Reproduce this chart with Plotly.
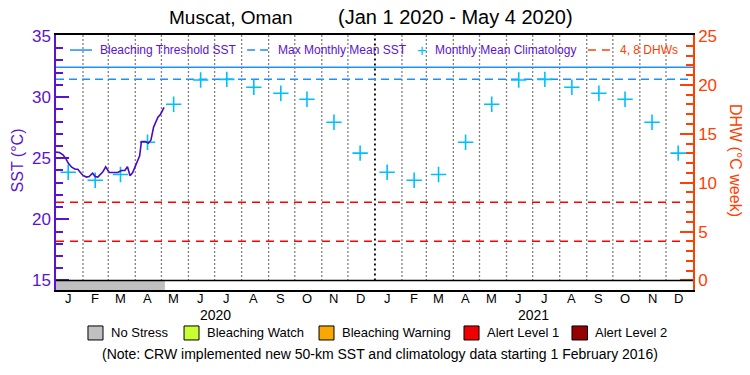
import pandas as pd
import plotly.graph_objects as go

# ---------------- data ----------------
sst_dates = ["2020-01-01", "2020-01-05", "2020-01-09", "2020-01-12", "2020-01-15", "2020-01-19",
             "2020-01-23", "2020-01-26", "2020-01-29", "2020-02-01", "2020-02-05", "2020-02-08",
             "2020-02-12", "2020-02-15", "2020-02-18", "2020-02-21", "2020-02-24", "2020-02-27",
             "2020-02-29", "2020-03-02", "2020-03-07", "2020-03-12", "2020-03-16", "2020-03-20",
             "2020-03-23", "2020-03-25", "2020-03-26", "2020-03-29", "2020-04-01", "2020-04-04",
             "2020-04-06", "2020-04-08", "2020-04-13", "2020-04-16", "2020-04-19", "2020-04-22",
             "2020-04-25", "2020-04-27", "2020-04-30", "2020-05-02", "2020-05-04"]
sst_values = [25.50, 25.47, 25.28, 25.00, 24.60, 24.27,
              24.10, 24.10, 23.83, 23.59, 23.46, 23.50,
              23.78, 23.50, 23.46, 23.65, 23.92, 24.30,
              24.05, 23.83, 23.83, 23.83, 24.00, 24.00,
              24.30, 23.92, 23.57, 23.83, 24.40, 24.90,
              25.20, 26.36, 26.36, 26.23, 26.50, 27.55,
              28.10, 28.35, 28.60, 28.85, 29.15]

clim_dates = [f"{y}-{m:02d}-15" for y in (2020, 2021) for m in range(1, 13)]
clim_monthly = [23.85, 23.20, 23.67, 26.31, 29.41, 31.40, 31.45, 30.80, 30.31, 29.82, 27.94, 25.42]
clim_values = clim_monthly * 2

mmm_sst = 31.45
threshold_sst = 32.45
dhw_levels = [4, 8]

month_letters = ["J", "F", "M", "A", "M", "J", "J", "A", "S", "O", "N", "D"] * 2
year_labels = ["2020", "2021"]
year_centers = ["2020-07-02", "2021-07-02"]

x_start, x_end = "2020-01-01", "2022-01-01"

# ---------------- styles ----------------
PURPLE = "#5a14cf"
LINE_PURPLE = "#4a0cc0"
ORANGE = "#ff4000"
BLUE = "#1e8fff"
CYAN = "#00bfff"
RED = "#ff0000"
FONT = "Liberation Sans"

SST_LO, SST_HI = 14.22, 35.08
DHW_LO, DHW_HI = (SST_LO - 15) * 1.25, (SST_HI - 15) * 1.25

fig = go.Figure()

# threshold & MMM lines
fig.add_trace(go.Scatter(x=[x_start, x_end], y=[threshold_sst] * 2, mode="lines",
                         line=dict(color=BLUE, width=1.5), showlegend=False, hoverinfo="skip"))
fig.add_trace(go.Scatter(x=[x_start, x_end], y=[mmm_sst] * 2, mode="lines",
                         line=dict(color=BLUE, width=1.5, dash="8px,5px"), showlegend=False,
                         hoverinfo="skip"))
# DHW lines on right axis
for lev in dhw_levels:
    fig.add_trace(go.Scatter(x=[x_start, x_end], y=[lev] * 2, mode="lines", yaxis="y2",
                             line=dict(color=RED, width=1.5, dash="8px,6px"), showlegend=False,
                             hoverinfo="skip"))

# climatology crosses
fig.add_trace(go.Scatter(x=clim_dates, y=clim_values, mode="markers",
                         marker=dict(symbol="cross-thin", size=11, line=dict(color=CYAN, width=1.6)),
                         showlegend=False))
# SST line
fig.add_trace(go.Scatter(x=sst_dates, y=sst_values, mode="lines",
                         line=dict(color=LINE_PURPLE, width=1.6), showlegend=False))

shapes = []
# month boundary dotted lines
bounds = pd.date_range(x_start, x_end, freq="MS")[1:-1]
for b in bounds:
    yr = b.month == 1
    shapes.append(dict(type="line", xref="x", yref="y", x0=b, x1=b, y0=15, y1=SST_HI,
                       line=dict(color="black", width=1.8 if yr else 1.3,
                                 dash="2px,3px" if yr else "1px,3px"),
                       layer="below"))
# baseline at SST 15
shapes.append(dict(type="line", xref="paper", yref="y", x0=0, x1=1, y0=15, y1=15,
                   line=dict(color="black", width=1.5)))
# stress bar (no stress over data period)
shapes.append(dict(type="rect", xref="x", yref="y", x0=sst_dates[0],
                   x1=str((pd.Timestamp(sst_dates[-1]) + pd.Timedelta(days=1)).date()),
                   y0=SST_LO, y1=15, fillcolor="#c0c0c0", line=dict(width=0), layer="below"))

annotations = []
# month & year labels
for d, lab in zip(clim_dates, month_letters):
    annotations.append(dict(x=d, y=-0.035, xref="x", yref="paper", text=lab, showarrow=False,
                            font=dict(family=FONT, size=13, color="black"),
                            xanchor="center", yanchor="middle"))
for d, lab in zip(year_centers, year_labels):
    annotations.append(dict(x=d, y=-0.098, xref="x", yref="paper", text=lab, showarrow=False,
                            font=dict(family=FONT, size=14, color="black"),
                            xanchor="center", yanchor="middle"))

# top legend (inside plot)
ly = 0.941
def legend_text(x, text, color):
    annotations.append(dict(x=x, y=ly, xref="paper", yref="paper", text=text, showarrow=False,
                            xanchor="left", yanchor="middle",
                            font=dict(family=FONT, size=12, color=color)))

shapes.append(dict(type="line", xref="paper", yref="paper", x0=0.022, x1=0.0565, y0=ly, y1=ly,
                   line=dict(color=BLUE, width=1.5)))
legend_text(0.066, "Bleaching Threshold SST", PURPLE)
shapes.append(dict(type="line", xref="paper", yref="paper", x0=0.300, x1=0.333, y0=ly, y1=ly,
                   line=dict(color=BLUE, width=1.5, dash="8px,5px")))
legend_text(0.345, "Max Monthly Mean SST", PURPLE)
annotations.append(dict(x=0.574, y=ly, xref="paper", yref="paper", text="+", showarrow=False,
                        xanchor="center", yanchor="middle",
                        font=dict(family=FONT, size=17, color=CYAN)))
legend_text(0.592, "Monthly Mean Climatology", PURPLE)
shapes.append(dict(type="line", xref="paper", yref="paper", x0=0.835, x1=0.876, y0=ly, y1=ly,
                   line=dict(color=ORANGE, width=1.5, dash="8px,6px")))
legend_text(0.882, "4, 8 DHWs", ORANGE)

# bottom legend
by0, by1 = -0.196, -0.141
items = [("No Stress", "#c0c0c0", 0.0502, 0.0738),
         ("Bleaching Watch", "#c8ff32", 0.201, 0.2245),
         ("Bleaching Warning", "#f8a800", 0.4129, 0.4364),
         ("Alert Level 1", "#f00000", 0.6405, 0.6641),
         ("Alert Level 2", "#960000", 0.810, 0.8344)]
for lab, col, x0, x1 in items:
    shapes.append(dict(type="rect", xref="paper", yref="paper", x0=x0, x1=x1, y0=by0, y1=by1,
                       fillcolor=col, line=dict(color="black", width=1)))
    annotations.append(dict(x=x1 + 0.009, y=(by0 + by1) / 2, xref="paper", yref="paper", text=lab,
                            showarrow=False, xanchor="left", yanchor="middle",
                            font=dict(family=FONT, size=13, color="black")))
annotations.append(dict(x=0.509, y=-0.251, xref="paper", yref="paper",
                        text="(Note: CRW implemented new 50-km SST and climatology data starting 1 February 2016)",
                        showarrow=False, xanchor="center", yanchor="middle",
                        font=dict(family=FONT, size=14, color="black")))

# axis titles
annotations.append(dict(x=-0.0605, y=0.51, xref="paper", yref="paper", text="SST (°C)", textangle=-90,
                        showarrow=False, xanchor="center", yanchor="middle",
                        font=dict(family=FONT, size=16, color=PURPLE)))
annotations.append(dict(x=1.066, y=0.51, xref="paper", yref="paper", text="DHW (°C week)", textangle=90,
                        showarrow=False, xanchor="center", yanchor="middle",
                        font=dict(family=FONT, size=16, color=ORANGE)))
# title (two parts)
annotations.append(dict(x=0.2747, y=1.0, xref="paper", yref="paper", yshift=18,
                        text="Muscat, Oman", showarrow=False, xanchor="center", yanchor="middle",
                        font=dict(family=FONT, size=19, color="black")))
annotations.append(dict(x=0.6264, y=1.0, xref="paper", yref="paper", yshift=18,
                        text="(Jan 1 2020 - May 4 2020)", showarrow=False, xanchor="center",
                        yanchor="middle", font=dict(family=FONT, size=20, color="black")))

fig.update_layout(
    width=750, height=375,
    margin=dict(l=56, r=57, t=35, b=85),
    paper_bgcolor="white", plot_bgcolor="white",
    showlegend=False,
    xaxis=dict(type="date", range=[x_start, x_end], showgrid=False, zeroline=False,
               showticklabels=False, ticks="", showline=True, linecolor="black", linewidth=1.5,
               mirror=True),
    yaxis=dict(range=[SST_LO, SST_HI], tickvals=[15, 20, 25, 30, 35], ticks="inside", ticklen=13,
               tickwidth=1.5, tickcolor=PURPLE, showgrid=False, zeroline=False,
               showline=True, linecolor=PURPLE, linewidth=1.5,
               tickfont=dict(family=FONT, size=17, color=PURPLE),
               minor=dict(dtick=1, tick0=15, ticks="inside", ticklen=7, tickcolor=PURPLE, tickwidth=1.5)),
    yaxis2=dict(range=[DHW_LO, DHW_HI], overlaying="y", side="right", tickvals=[0, 5, 10, 15, 20, 25],
                ticks="inside", ticklen=13, tickwidth=1.5, tickcolor=ORANGE, showgrid=False,
                zeroline=False, showline=True, linecolor=ORANGE, linewidth=1.5,
                tickfont=dict(family=FONT, size=17, color=ORANGE),
                minor=dict(dtick=1, tick0=0, ticks="inside", ticklen=7, tickcolor=ORANGE, tickwidth=1.5)),
    shapes=shapes,
    annotations=annotations,
)

fig.write_html("out.html", config={"displayModeBar": False},
               post_script="document.body.style.margin='0px';document.body.style.overflow='hidden';")
